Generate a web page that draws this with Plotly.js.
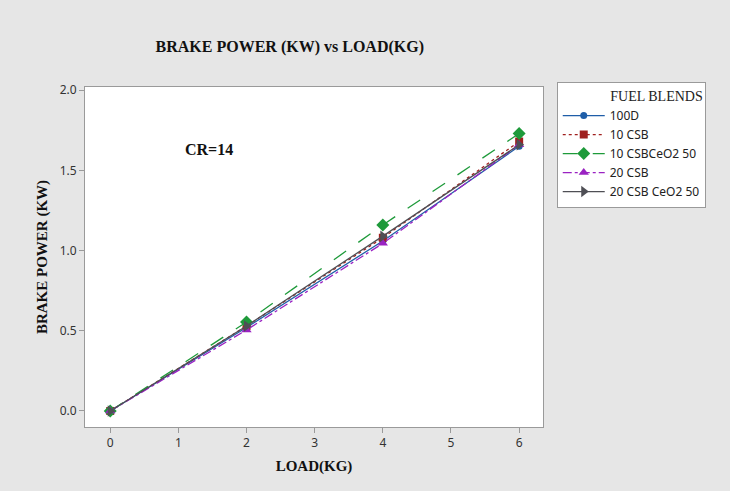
<!DOCTYPE html>
<html>
<head>
<meta charset="utf-8">
<script src="https://cdn.plot.ly/plotly-3.0.1.min.js"></script>
<style>html,body{margin:0;padding:0;background:#e6e6e6;}#chart{width:730px;height:491px;}</style>
</head>
<body>
<div id="chart"></div>
<script>
const loads = [0, 2, 4, 6];
const seriesNames = ["100D", "10 CSB", "10 CSBCeO2 50", "20 CSB", "20 CSB CeO2 50"];
const p100D = [0, 0.52, 1.06, 1.65];
const p10CSB = [0, 0.53, 1.08, 1.68];
const p10CSBCeO2 = [0, 0.555, 1.16, 1.73];
const p20CSB = [0, 0.505, 1.045, 1.66];
const p20CSBCeO2 = [0, 0.53, 1.09, 1.66];
const xTicks = [0, 1, 2, 3, 4, 5, 6];
const yTicks = [0.0, 0.5, 1.0, 1.5, 2.0];

const values = [p100D, p10CSB, p10CSBCeO2, p20CSB, p20CSBCeO2];
const colors = ["#1f5ea8", "#a0201f", "#1e9a3a", "#9a22c2", "#4f4f55"];
const symbols = ["circle", "square", "diamond", "triangle-up", "triangle-right"];
const dashes = ["solid", "dot", "longdash", "dashdot", "solid"];
const sizes = [7, 8, 10, 9, 10];

const traces = seriesNames.map((n, i) => ({
  x: loads, y: values[i], name: n, type: "scatter", mode: "lines+markers",
  line: {color: colors[i], width: 1.3, dash: dashes[i]},
  marker: {color: colors[i], symbol: symbols[i], size: sizes[i]}
}));

const layout = {
  width: 730, height: 491,
  paper_bgcolor: "#e6e6e6", plot_bgcolor: "#ffffff",
  margin: {l: 85, r: 187, t: 87, b: 64},
  title: {text: "<b>BRAKE POWER (KW) vs LOAD(KG)</b>", font: {family: "Liberation Serif, Times New Roman, serif", size: 16, color: "#111"}, x: 0.397, xanchor: "center", y: 0.905, yanchor: "middle"},
  xaxis: {range: [-0.37, 6.35], tickvals: xTicks, ticktext: xTicks.map(String), showgrid: false, zeroline: false,
    showline: true, linecolor: "#9a9a9a", linewidth: 1, mirror: true, ticks: "outside", ticklen: 5, tickcolor: "#9a9a9a",
    tickfont: {family: "Noto Sans, sans-serif", size: 12, color: "#333"},
    title: {text: "<b>LOAD(KG)</b>", font: {family: "Liberation Serif, Times New Roman, serif", size: 15, color: "#111"}, standoff: 10}},
  yaxis: {range: [-0.1, 2.02], tickvals: yTicks, ticktext: yTicks.map(v => v.toFixed(1)), showgrid: false, zeroline: false,
    showline: true, linecolor: "#9a9a9a", linewidth: 1, mirror: true, ticks: "outside", ticklen: 5, tickcolor: "#9a9a9a",
    tickfont: {family: "Noto Sans, sans-serif", size: 12, color: "#333"},
    title: {text: "<b>BRAKE POWER (KW)</b>", font: {family: "Liberation Serif, Times New Roman, serif", size: 15, color: "#111"}, standoff: 8}},
  legend: {x: 1.03, xanchor: "left", y: 1.015, yanchor: "top", bgcolor: "#ffffff", bordercolor: "#9a9a9a", borderwidth: 1,
    font: {family: "Noto Sans, sans-serif", size: 12, color: "#222"}, tracegroupgap: 0, itemwidth: 42,
    title: {text: "FUEL BLENDS", font: {family: "Liberation Serif, Times New Roman, serif", size: 14, color: "#222"}, side: "top right"}},
  annotations: [{x: 1.45, y: 1.63, xref: "x", yref: "y", text: "<b>CR=14</b>", showarrow: false,
    font: {family: "Liberation Serif, Times New Roman, serif", size: 16, color: "#111"}}],
  showlegend: true
};

Plotly.newPlot("chart", traces, layout, {displayModeBar: false, staticPlot: true});
</script>
</body>
</html>
